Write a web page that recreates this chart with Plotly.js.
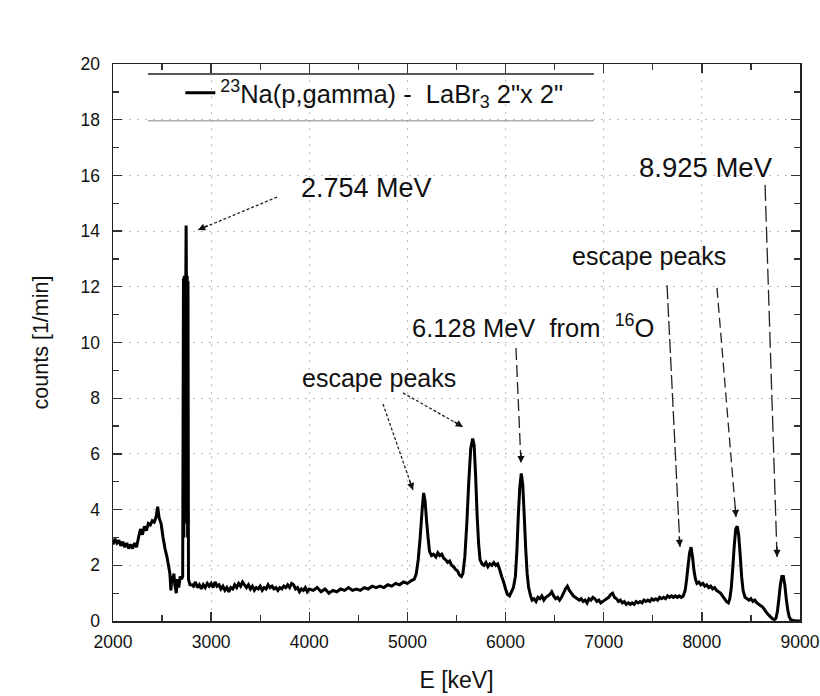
<!DOCTYPE html>
<html>
<head>
<meta charset="utf-8">
<script src="https://cdn.plot.ly/plotly-3.0.1.min.js"></script>
<style>html,body{margin:0;padding:0;background:#fff;}#chart{width:820px;height:696px;}</style>
</head>
<body>
<div id="chart"></div>
<script>
// Spectrum: energy (keV) and counts (1/min)
const energy = [
2000,2020,2040,2060,2080,2100,2120,2140,2160,2180,2200,2220,2240,2260,2280,2300,2320,2340,2360,2380,2400,2420,2440,2455,2470,2490,2510,2530,2550,2565,2580,2590,2600,2610,2620,2630,2645,2655,2670,2685,2698,2710,
2718,2722,2726,2730,2734,2738,2742,2745,2748,2752,2756,2760,2764,2769,2785,2805,
2820,2840,2860,2880,2900,2920,2940,2960,2980,3000,3020,3040,3060,3080,3100,3120,3140,3160,3180,3200,3220,3240,3260,3280,3300,3320,3340,3360,3380,3400,3420,3440,3460,3480,3500,3520,3540,3560,3580,3600,3620,3640,3660,3680,3700,3720,3740,3760,3780,3800,3820,3840,3860,3880,3900,3920,3940,3960,3980,4000,
4040,4080,4120,4160,4200,4240,4280,4320,4360,4400,4440,4480,4520,4560,4600,4640,4680,4720,4760,4800,4840,4880,4920,4960,5000,5040,5070,5090,5110,5130,5150,5165,5180,5195,5210,5225,5245,5265,5290,5310,5330,5350,5370,5390,5410,5430,5450,5470,5490,5510,5530,5550,5565,5585,5605,5625,5645,5665,5680,5695,5710,5725,5740,5760,5780,5800,5820,5840,5860,5880,5900,5920,5940,5960,5980,6000,6020,6040,6060,6080,6100,6115,6130,6145,6160,6175,6190,6205,6220,6235,6255,6270,6290,6310,6330,6350,6370,6390,6410,6430,6450,6470,6490,6510,6530,6550,6570,6590,6610,6630,6650,6670,6690,6710,6730,6750,6770,6790,6810,6830,6850,6870,6890,6910,6930,6950,6970,6990,7010,7030,7050,7070,7090,7110,7130,7150,7170,7190,7210,7230,7250,7270,7290,7310,7330,7350,7370,7390,7410,7430,7450,7470,7490,7510,7530,7550,7570,7590,7610,7630,7650,7670,7690,7710,7730,7750,7770,7790,7810,7830,7845,7860,7875,7890,7905,7920,7935,7950,7970,7990,8010,8030,8050,8070,8090,8110,8130,8150,8170,8190,8210,8230,8250,8270,8285,8300,8315,8330,8345,8360,8375,8390,8405,8420,8440,8460,8480,8500,8520,8540,8560,8580,8600,8620,8640,8660,8680,8700,8720,8740,8755,8770,8785,8800,8815,8830,8845,8860,8875,8890,8905,8930,8960,9000
];
const counts = [
2.75,2.95,2.8,2.9,2.7,2.85,2.65,2.8,2.6,2.75,2.6,2.8,2.65,3.0,3.3,3.1,3.4,3.25,3.5,3.45,3.6,3.55,3.75,4.1,3.7,3.5,3.0,2.6,2.3,2.0,1.7,1.1,1.6,1.4,1.7,1.3,1.0,1.5,1.2,1.6,1.5,1.6,
12.3,3.0,12.4,3.5,12.3,4.0,12.4,14.2,12.3,4.0,12.4,3.0,12.2,1.5,1.3,1.3,
1.25,1.4,1.2,1.3,1.15,1.3,1.2,1.35,1.25,1.35,1.2,1.4,1.25,1.3,1.15,1.25,1.1,1.2,1.05,1.2,1.15,1.3,1.2,1.35,1.25,1.4,1.3,1.2,1.3,1.15,1.25,1.1,1.2,1.15,1.25,1.1,1.2,1.15,1.3,1.2,1.25,1.15,1.2,1.1,1.2,1.15,1.25,1.2,1.3,1.2,1.35,1.3,1.15,1.2,1.05,1.15,1.1,1.2,1.05,1.15,
1.1,1.2,1.05,1.15,1.0,1.1,1.05,1.15,1.1,1.2,1.1,1.15,1.1,1.2,1.15,1.25,1.2,1.25,1.2,1.3,1.25,1.35,1.3,1.4,1.35,1.45,1.5,1.7,2.2,3.0,4.0,4.6,4.3,3.6,3.0,2.5,2.35,2.4,2.3,2.45,2.35,2.4,2.25,2.2,2.1,2.15,2.0,1.95,1.85,1.8,1.65,1.6,1.7,2.3,3.5,5.0,6.2,6.55,6.3,5.2,3.8,2.8,2.2,2.05,2.0,2.1,1.95,2.05,2.0,2.1,2.0,2.05,1.85,1.6,1.4,1.15,0.95,0.9,1.05,1.2,1.6,2.5,3.8,4.8,5.3,4.9,3.8,2.6,1.7,1.2,0.9,0.75,0.8,0.7,0.85,0.8,0.9,0.75,0.85,0.9,0.95,1.05,0.9,0.8,0.85,0.75,0.85,1.0,1.15,1.25,1.1,1.0,0.9,0.85,0.8,0.75,0.8,0.7,0.75,0.65,0.8,0.75,0.85,0.8,0.7,0.75,0.65,0.7,0.75,0.8,0.85,0.95,1.0,0.85,0.8,0.7,0.75,0.65,0.7,0.6,0.65,0.6,0.65,0.6,0.7,0.65,0.7,0.65,0.75,0.7,0.75,0.7,0.8,0.75,0.8,0.75,0.85,0.8,0.85,0.8,0.9,0.85,0.9,0.85,0.9,0.85,0.9,0.85,0.9,1.1,1.5,2.0,2.45,2.65,2.3,1.8,1.5,1.35,1.4,1.3,1.35,1.25,1.3,1.2,1.25,1.15,1.2,1.1,1.05,1.0,0.9,0.8,0.7,0.65,0.8,1.2,1.9,2.7,3.3,3.4,3.1,2.4,1.6,1.1,0.85,0.8,0.75,0.8,0.7,0.75,0.65,0.6,0.55,0.5,0.4,0.3,0.22,0.15,0.08,0.05,0.1,0.35,0.8,1.3,1.6,1.6,1.3,0.8,0.4,0.15,0.05,0.02,0.01,0.0
];
const seriesName = '<sup>23</sup>Na(p,gamma) -  LaBr<sub>3</sub> 2"x 2"';
const xTitle = 'E [keV]';
const yTitle = 'counts [1/min]';
const xRange = [2000, 9000];
const yRange = [0, 20];

// Annotation labels: text, x, y
const labels = [
  {text: '2.754 MeV', x: 4588, y: 15.55, size: 27},
  {text: 'escape peaks', x: 4710, y: 8.73, size: 25},
  {text: '6.128 MeV  from  <sup>16</sup>O', x: 6275, y: 10.59, size: 25.5},
  {text: 'escape peaks', x: 7462, y: 13.1, size: 25},
  {text: '8.925 MeV', x: 8040, y: 16.3, size: 27.5}
];
// Arrows: tail (x0,y0) -> head (x1,y1), dash, head offset (px)
const arrows = [
  {x0: 3671, y0: 15.22, x1: 2866, y1: 14.04, dash: '3px,2px', ax: 11, ay: -5},
  {x0: 4751, y0: 7.79, x1: 5057, y1: 4.70, dash: '3px,2px', ax: -4, ay: -11},
  {x0: 4955, y0: 8.19, x1: 5566, y1: 6.97, dash: '3px,2px', ax: -10, ay: -6},
  {x0: 6106, y0: 9.80, x1: 6157, y1: 5.67, dash: '12px,5px', ax: 0, ay: -12},
  {x0: 7645, y0: 12.06, x1: 7777, y1: 2.66, dash: '14px,4px', ax: -1, ay: -12},
  {x0: 8154, y0: 11.96, x1: 8348, y1: 3.73, dash: '10px,5px', ax: -1, ay: -12},
  {x0: 8644, y0: 15.66, x1: 8766, y1: 2.30, dash: '16px,5px', ax: 0, ay: -12}
];

const FONT = 'Liberation Sans, Arial, sans-serif';
const INK = '#111';

const trace = {
  x: energy, y: counts, type: 'scatter', mode: 'lines',
  name: seriesName,
  line: {color: '#000', width: 3, shape: 'linear', simplify: false}
};

const shapes = arrows.map(a => ({
  type: 'line', xref: 'x', yref: 'y', x0: a.x0, y0: a.y0, x1: a.x1, y1: a.y1,
  line: {color: '#222', width: 1.3, dash: a.dash}
}));
// legend top/bottom rules
shapes.push({type: 'line', xref: 'paper', yref: 'paper', x0: 0.051, x1: 0.70, y0: 0.982, y1: 0.982, line: {color: '#222', width: 1.5}});
shapes.push({type: 'line', xref: 'paper', yref: 'paper', x0: 0.051, x1: 0.70, y0: 0.898, y1: 0.898, line: {color: '#888', width: 1}});

const annotations = labels.map(l => ({
  text: l.text, x: l.x, y: l.y, xref: 'x', yref: 'y', showarrow: false,
  font: {family: FONT, size: l.size, color: INK}, xanchor: 'center', yanchor: 'middle'
})).concat(arrows.map(a => ({
  text: '', x: a.x1, y: a.y1, xref: 'x', yref: 'y', showarrow: true,
  ax: a.ax, ay: a.ay, arrowhead: 2, arrowsize: 1.1, arrowwidth: 1.3, arrowcolor: '#111'
})));

const axisCommon = {
  showline: true, linecolor: '#222', linewidth: 1.5, mirror: 'ticks',
  ticks: 'inside', ticklen: 9, tickwidth: 1.3, tickcolor: '#333',
  showgrid: true, gridcolor: '#bdbdbd', griddash: '2px,6px', gridwidth: 1,
  zeroline: false, tickfont: {family: FONT, size: 17.5, color: INK}
};

const layout = {
  width: 820, height: 696,
  margin: {l: 113, r: 20, t: 64, b: 75},
  paper_bgcolor: '#fff', plot_bgcolor: '#fff',
  showlegend: true,
  legend: {x: 0.098, y: 0.99, xanchor: 'left', yanchor: 'top', bgcolor: 'rgba(0,0,0,0)', borderwidth: 0,
           font: {family: FONT, size: 25.5, color: INK}},
  xaxis: Object.assign({}, axisCommon, {
    range: xRange, dtick: 1000, tick0: 2000, ticklabelstandoff: 4,
    minor: {ticks: 'inside', dtick: 500, ticklen: 6, tickcolor: '#333', showgrid: false},
    title: {text: xTitle, font: {family: FONT, size: 23, color: INK}, standoff: 21}
  }),
  yaxis: Object.assign({}, axisCommon, {
    range: yRange, dtick: 2, tick0: 0, ticklabelstandoff: 8,
    minor: {ticks: 'inside', dtick: 1, ticklen: 6, tickcolor: '#333', showgrid: false},
    title: {text: yTitle, font: {family: FONT, size: 21.5, color: INK}, standoff: 26}
  }),
  shapes: shapes,
  annotations: annotations
};

Plotly.newPlot('chart', [trace], layout, {staticPlot: true, displayModeBar: false});
</script>
</body>
</html>
